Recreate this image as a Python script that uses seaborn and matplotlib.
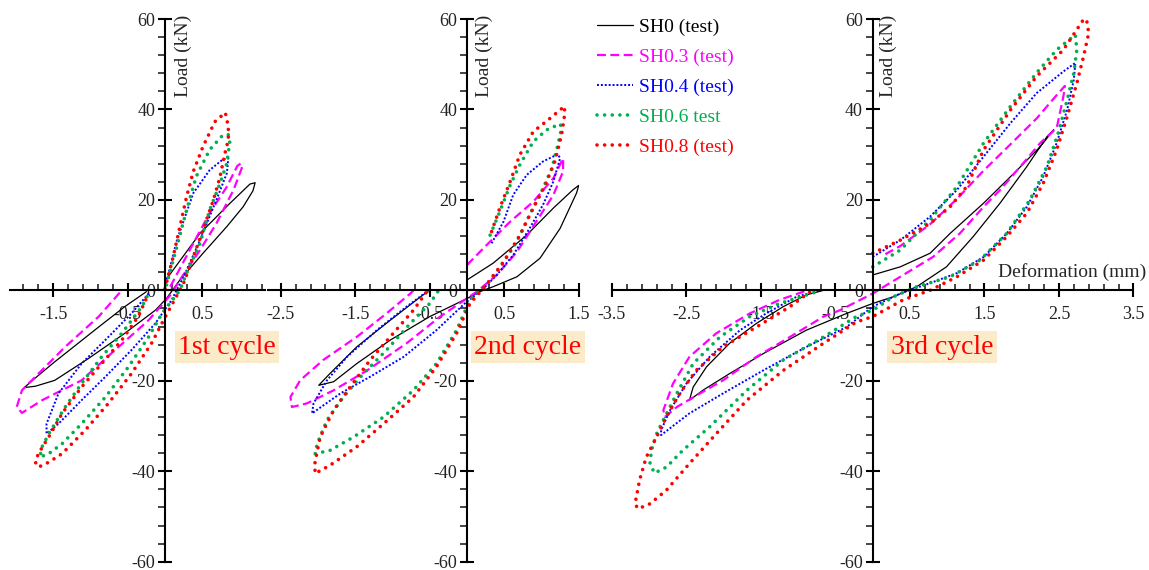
import matplotlib
matplotlib.use("Agg")
import matplotlib.pyplot as plt
from matplotlib.ticker import MultipleLocator, FormatStrFormatter
from matplotlib.lines import Line2D
import seaborn as sns

# ---------------------------------------------------------------- data
series_names = ["SH0 (test)", "SH0.3 (test)", "SH0.4 (test)", "SH0.6 test", "SH0.8 (test)"]
cycle_names = ["1st cycle", "2nd cycle", "3rd cycle"]

# 1st cycle: deformation (mm) / load (kN)
c1_sh0_x = [0.02, 0.47, 0.85, 1.14, 1.21, 1.18, 1.05, 0.83, 0.51, 0.20, 0.02, -0.13, -0.54, -1.03, -1.48, -1.74, -1.89, -1.75, -1.48, -0.89, -0.54, -0.25]
c1_sh0_y = [2.5, 12.6, 18.9, 23.5, 23.8, 22.0, 18.5, 14.1, 8.2, 2.3, -1.8, -4.4, -9.5, -15.1, -19.9, -21.2, -21.5, -19.5, -15.8, -8.1, -3.6, -0.3]
c1_sh03_x = [0.07, 0.38, 0.60, 0.83, 0.97, 1.02, 1.03, 0.92, 0.69, 0.47, 0.20, 0.09, -0.22, -0.67, -1.12, -1.65, -1.92, -1.99, -1.92, -1.74, -1.34, -0.89, -0.58]
c1_sh03_y = [0.8, 10.4, 17.1, 22.9, 27.5, 28.1, 27.0, 22.2, 14.8, 8.9, 2.3, -0.7, -6.6, -13.2, -19.9, -24.3, -27.1, -25.8, -22.1, -19.1, -12.5, -5.8, 0.0]
c1_sh04_x = [0.0, 0.16, 0.38, 0.60, 0.78, 0.85, 0.83, 0.69, 0.47, 0.25, 0.09, -0.13, -0.45, -0.80, -1.12, -1.43, -1.59, -1.59, -1.43, -1.12, -0.76, -0.45, -0.22]
c1_sh04_y = [0.8, 11.1, 21.5, 26.6, 29.0, 29.2, 25.9, 20.0, 11.1, 3.0, -2.1, -7.3, -13.2, -19.1, -24.3, -29.5, -31.7, -29.5, -22.8, -16.2, -10.3, -5.1, -0.7]
c1_sh06_x = [0.02, 0.16, 0.29, 0.42, 0.60, 0.78, 0.85, 0.87, 0.83, 0.74, 0.60, 0.47, 0.29, 0.20, -0.04, -0.22, -0.49, -0.80, -1.12, -1.38, -1.56, -1.68, -1.65, -1.56, -1.34, -1.12, -0.85, -0.58, -0.31, -0.22]
c1_sh06_y = [1.2, 9.7, 17.8, 25.2, 31.1, 34.4, 34.4, 32.9, 28.1, 23.7, 17.8, 10.4, 3.8, 0.0, -5.1, -10.3, -16.9, -23.6, -29.5, -33.9, -36.1, -36.9, -34.6, -31.7, -25.8, -20.6, -14.7, -9.5, -3.6, -0.7]
c1_sh08_x = [0.0, 0.11, 0.20, 0.29, 0.38, 0.51, 0.67, 0.81, 0.85, 0.85, 0.80, 0.74, 0.65, 0.51, 0.38, 0.25, -0.02, -0.18, -0.45, -0.76, -1.07, -1.38, -1.56, -1.70, -1.74, -1.70, -1.56, -1.38, -1.12, -0.85, -0.58, -0.36, -0.22]
c1_sh08_y = [0.4, 7.4, 14.1, 20.7, 26.3, 31.8, 37.3, 39.3, 36.2, 33.3, 30.0, 25.2, 20.0, 13.4, 7.4, 1.6, -6.6, -11.7, -18.4, -25.0, -30.9, -36.1, -38.0, -39.1, -38.0, -36.1, -32.4, -27.2, -21.4, -16.2, -11.0, -5.8, -0.7]

# 2nd cycle
c2_sh0_x = [0.0, 0.35, 0.80, 1.16, 1.42, 1.50, 1.47, 1.25, 0.98, 0.67, 0.35, 0.17, 0.0, -0.50, -1.03, -1.48, -1.79, -1.99, -1.84, -1.48, -1.03, -0.59, -0.52]
c2_sh0_y = [2.3, 6.0, 12.2, 18.2, 22.2, 23.2, 21.5, 13.7, 7.1, 3.0, 0.8, -0.3, -1.8, -5.8, -11.0, -16.2, -20.2, -21.0, -18.4, -12.5, -6.6, -1.0, -0.3]
c2_sh03_x = [0.0, 0.22, 0.58, 0.89, 1.16, 1.29, 1.29, 1.16, 0.93, 0.67, 0.40, 0.13, -0.36, -0.81, -1.34, -1.79, -2.15, -2.35, -2.37, -2.24, -1.93, -1.48, -1.08, -0.76, -0.72]
c2_sh03_y = [5.6, 9.3, 15.2, 19.6, 24.8, 29.2, 26.3, 21.1, 15.2, 8.5, 3.4, -0.3, -5.8, -11.7, -17.7, -22.1, -25.0, -25.8, -23.6, -19.9, -15.4, -10.3, -5.1, -0.7, 0.0]
c2_sh04_x = [0.33, 0.49, 0.62, 0.80, 1.02, 1.22, 1.25, 1.16, 1.02, 0.84, 0.62, 0.40, 0.22, -0.03, -0.41, -0.85, -1.30, -1.70, -2.08, -2.06, -1.88, -1.61, -1.21, -0.81, -0.54]
c2_sh04_y = [10.4, 15.2, 21.1, 25.5, 28.5, 30.1, 29.2, 24.1, 18.9, 13.7, 7.8, 3.4, 0.4, -2.9, -8.8, -14.7, -19.1, -22.8, -27.2, -25.0, -19.9, -14.7, -8.8, -3.6, -0.3]
c2_sh06_x = [0.31, 0.44, 0.58, 0.71, 0.89, 1.07, 1.25, 1.27, 1.22, 1.14, 1.00, 0.84, 0.67, 0.44, 0.22, 0.04, -0.14, -0.41, -0.72, -1.12, -1.52, -1.84, -2.04, -2.01, -1.88, -1.66, -1.39, -1.08, -0.76, -0.50, -0.38]
c2_sh06_y = [12.2, 17.4, 23.3, 27.8, 32.9, 35.5, 36.8, 35.9, 32.2, 27.0, 21.8, 16.7, 10.8, 4.9, 0.4, -2.1, -8.8, -16.2, -22.1, -28.0, -32.4, -35.4, -36.1, -33.9, -28.7, -23.6, -18.4, -13.2, -7.3, -2.9, 0.0]
c2_sh08_x = [0.33, 0.44, 0.58, 0.71, 0.89, 1.09, 1.25, 1.31, 1.31, 1.27, 1.18, 1.05, 0.89, 0.71, 0.49, 0.26, 0.04, -0.14, -0.41, -0.72, -1.12, -1.48, -1.84, -2.04, -2.04, -1.97, -1.79, -1.57, -1.30, -0.99, -0.72, -0.54]
c2_sh08_y = [13.0, 18.2, 24.1, 30.0, 35.1, 37.7, 39.9, 40.7, 38.8, 34.4, 28.5, 23.3, 18.2, 12.2, 6.3, 1.2, -2.9, -9.5, -16.9, -23.6, -29.5, -34.6, -38.7, -40.5, -38.0, -32.4, -26.5, -21.4, -15.4, -9.5, -4.4, -0.3]

# 3rd cycle
c3_sh0_x = [0.0, 0.37, 0.77, 1.04, 1.49, 1.94, 2.25, 2.43, 2.34, 2.07, 1.71, 1.35, 0.99, 0.59, 0.28, 0.0, -0.35, -0.89, -1.47, -1.92, -2.28, -2.46, -2.41, -2.23, -1.92, -1.56, -1.20, -0.89, -0.66]
c3_sh0_y = [3.4, 5.2, 8.2, 12.6, 19.3, 26.6, 31.8, 35.5, 34.0, 27.4, 19.3, 11.9, 5.2, 0.8, -1.4, -2.9, -5.1, -8.8, -14.0, -18.4, -22.1, -24.3, -21.4, -16.9, -11.7, -7.3, -3.6, -1.0, 0.0]
c3_sh03_x = [0.17, 0.37, 0.77, 1.13, 1.49, 1.85, 2.20, 2.45, 2.58, 2.56, 2.47, 2.25, 2.02, 1.71, 1.49, 1.17, 0.81, 0.37, 0.0, -0.44, -0.66, -1.11, -1.56, -2.01, -2.32, -2.63, -2.79, -2.81, -2.68, -2.46, -2.10, -1.65, -1.25, -0.93, -0.84]
c3_sh03_y = [8.0, 9.8, 14.6, 20.2, 26.5, 32.3, 38.0, 42.8, 45.2, 42.9, 35.9, 32.6, 28.1, 22.2, 18.5, 12.6, 7.4, 3.0, -0.7, -4.4, -5.8, -10.3, -14.7, -19.9, -22.8, -25.8, -28.0, -26.5, -20.6, -14.7, -9.5, -5.1, -2.1, -0.3, 0.0]
c3_sh04_x = [0.0, 0.37, 0.77, 1.13, 1.49, 1.85, 2.20, 2.56, 2.72, 2.70, 2.61, 2.47, 2.29, 2.07, 1.80, 1.49, 1.13, 0.77, 0.37, 0.0, -0.35, -0.89, -1.47, -2.01, -2.46, -2.84, -2.84, -2.72, -2.50, -2.19, -1.78, -1.43, -1.02, -0.71]
c3_sh04_y = [7.4, 11.1, 16.3, 22.2, 29.6, 37.0, 43.6, 48.4, 50.3, 46.6, 39.9, 32.6, 25.2, 18.5, 12.6, 7.4, 3.8, 1.6, -0.7, -3.6, -8.1, -12.5, -17.7, -22.8, -27.2, -32.0, -30.9, -26.5, -20.6, -14.7, -8.8, -5.1, -1.4, 0.0]
c3_sh06_x = [0.0, 0.37, 0.77, 1.13, 1.49, 1.85, 2.20, 2.47, 2.72, 2.74, 2.70, 2.61, 2.49, 2.34, 2.11, 1.80, 1.44, 1.04, 0.59, 0.28, 0.0, -0.22, -0.66, -1.20, -1.69, -2.19, -2.55, -2.77, -2.93, -2.99, -2.97, -2.90, -2.79, -2.63, -2.41, -2.05, -1.65, -1.25, -0.75]
c3_sh06_y = [5.2, 8.9, 15.6, 22.9, 32.6, 40.7, 48.1, 53.2, 56.5, 53.2, 48.1, 42.1, 34.8, 27.4, 20.0, 12.6, 6.7, 3.0, 0.8, -1.4, -4.4, -5.8, -10.3, -15.4, -22.1, -30.2, -35.4, -39.1, -40.4, -38.3, -35.4, -31.7, -28.0, -22.8, -16.2, -10.3, -5.8, -2.9, -0.3]
c3_sh08_x = [0.0, 0.37, 0.77, 1.04, 1.26, 1.49, 1.85, 2.20, 2.56, 2.83, 2.87, 2.90, 2.83, 2.74, 2.61, 2.47, 2.29, 2.07, 1.80, 1.49, 1.13, 0.77, 0.41, 0.0, -0.22, -0.66, -1.20, -1.69, -2.10, -2.46, -2.77, -2.99, -3.15, -3.19, -3.13, -3.04, -2.90, -2.77, -2.59, -2.37, -2.01, -1.56, -1.11, -0.84]
c3_sh08_y = [8.2, 11.1, 14.8, 18.5, 22.9, 31.1, 39.9, 47.3, 53.2, 59.9, 59.9, 56.9, 51.7, 45.8, 38.4, 31.1, 23.7, 17.1, 11.9, 6.7, 3.0, 0.0, -2.1, -5.8, -7.0, -11.7, -17.7, -24.3, -31.7, -38.3, -44.2, -47.2, -48.3, -47.2, -42.0, -36.9, -32.4, -28.0, -22.8, -17.7, -12.5, -8.1, -3.6, -0.3]

cycles = [
    [(c1_sh0_x, c1_sh0_y), (c1_sh03_x, c1_sh03_y), (c1_sh04_x, c1_sh04_y), (c1_sh06_x, c1_sh06_y), (c1_sh08_x, c1_sh08_y)],
    [(c2_sh0_x, c2_sh0_y), (c2_sh03_x, c2_sh03_y), (c2_sh04_x, c2_sh04_y), (c2_sh06_x, c2_sh06_y), (c2_sh08_x, c2_sh08_y)],
    [(c3_sh0_x, c3_sh0_y), (c3_sh03_x, c3_sh03_y), (c3_sh04_x, c3_sh04_y), (c3_sh06_x, c3_sh06_y), (c3_sh08_x, c3_sh08_y)],
]

# ---------------------------------------------------------------- style
sns.set_style("ticks")
plt.rcParams["font.family"] = ["Liberation Serif", "DejaVu Serif"]
plt.rcParams["axes.unicode_minus"] = False

line_styles = [
    dict(color="black", linewidth=0.9, linestyle="-"),
    dict(color="#FF00FF", linewidth=1.6, linestyle=(0, (4, 2))),
    dict(color="#0000FF", linewidth=1.4, linestyle=(0, (1, 1))),
    dict(color="#00B050", linewidth=2.6, linestyle=(0, (0.01, 2.1)), dash_capstyle="round"),
    dict(color="#FF0000", linewidth=2.6, linestyle=(0, (0.01, 2.1)), dash_capstyle="round"),
]

W, H = 1149, 570
fig = plt.figure(figsize=(W / 100, H / 100), dpi=100)

px_per_mm = 74.5
y_top_px, y_bot_px = 19.0, 561.7
panels = [
    dict(origin=165.0, xlim=(-2.08, 1.34), load_x=183, cycle_x=227),
    dict(origin=467.0, xlim=(-2.67, 1.50), load_x=484, cycle_x=528),
    dict(origin=872.7, xlim=(-3.50, 3.50), load_x=888, cycle_x=942),
]

axes = []
for i, p in enumerate(panels):
    left = p["origin"] + p["xlim"][0] * px_per_mm
    right = p["origin"] + p["xlim"][1] * px_per_mm
    ax = fig.add_axes([left / W, (H - y_bot_px) / H, (right - left) / W, (y_bot_px - y_top_px) / H])
    ax.patch.set_alpha(0)
    for (xs, ys), st in zip(cycles[i], line_styles):
        sns.lineplot(x=xs, y=ys, sort=False, estimator=None, ax=ax, legend=False, **st)
    ax.set_xlim(*p["xlim"])
    ax.set_ylim(-60, 60)

    for side in ("top", "right"):
        ax.spines[side].set_visible(False)
    for side in ("left", "bottom"):
        ax.spines[side].set_position("zero")
        ax.spines[side].set_linewidth(1.5)
        ax.spines[side].set_color("black")

    ax.xaxis.set_major_locator(MultipleLocator(1.0, offset=0.5))
    ax.xaxis.set_minor_locator(MultipleLocator(0.2, offset=0.1))
    ax.yaxis.set_major_locator(MultipleLocator(20))
    ax.yaxis.set_minor_locator(MultipleLocator(4))
    ax.xaxis.set_major_formatter(FormatStrFormatter("%.1f"))
    ax.yaxis.set_major_formatter(FormatStrFormatter("%d"))

    ax.tick_params(which="major", direction="inout", length=10, width=1.5, labelsize=13, colors="black")
    ax.tick_params(axis="x", which="major", pad=6)
    ax.tick_params(axis="y", which="major", pad=2)
    ax.tick_params(axis="x", which="minor", direction="in", length=4, width=1.2)
    ax.tick_params(axis="y", which="minor", direction="out", length=5, width=1.2)
    ax.set_xlabel("")
    ax.set_ylabel("")
    for lbl in ax.get_xticklabels() + ax.get_yticklabels():
        lbl.set_color("#222222")

    fig.text(p["load_x"] / W, 1 - 56 / H, "Load (kN)", rotation=90, ha="center", va="center", fontsize=14)
    fig.text(p["cycle_x"] / W, 1 - 347 / H, cycle_names[i], ha="center", va="center", fontsize=20,
             color="#FF0000", bbox=dict(boxstyle="square,pad=0.12", fc="#FCEBC9", ec="none"))
    axes.append(ax)

fig.text(1072 / W, 1 - 272 / H, "Deformation (mm)", ha="center", va="center", fontsize=14)

handles = [Line2D([], [], **st) for st in line_styles]
fig.legend(handles, series_names, loc="upper left", bbox_to_anchor=(597 / W, 1 - 18 / H),
           frameon=False, fontsize=14, handlelength=1.85, handletextpad=0.3, labelspacing=0.64,
           borderpad=0, borderaxespad=0, labelcolor=[st["color"] for st in line_styles])

fig.savefig("out.png", dpi=100)
